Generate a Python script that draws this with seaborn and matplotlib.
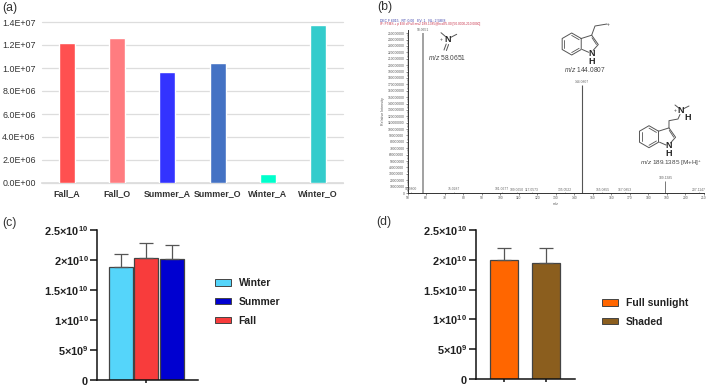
# %%
"""
Figura de cuatro paneles: área por muestra, espectro MS/MS y barras por estación / luz.
"""

import numpy as np
import pandas as pd
import matplotlib.pyplot as plt
import seaborn as sns
from matplotlib.patches import Patch

W, H = 709, 387

# (a)
samples = ["Fall_A", "Fall_O", "Summer_A", "Summer_O", "Winter_A", "Winter_O"]
sample_values = [1.217e7, 1.258e7, 9.65e6, 1.046e7, 8.1e5, 1.377e7]
sample_colors = ["#FF5050", "#FF7C80", "#3333FF", "#4472C4", "#00FFCC", "#33CCCC"]
a_ticks = [0, 2e6, 4e6, 6e6, 8e6, 1e7, 1.2e7, 1.4e7]
a_labels = ["0.0E+00", "2.0E+06", "4.0E+06", "6.0E+06", "8.0E+06", "1.0E+07", "1.2E+07", "1.4E+07"]

# (b)
mz = [51.98, 58.0651, 75.0287, 101.0677, 109.0650, 117.0573, 135.0522, 144.0807,
      155.0855, 167.0853, 189.1385, 207.1147]
intensity = [1.5e6, 2.5e8, 1.2e6, 1.2e6, 1.0e6, 1.0e6, 1.0e6, 1.69e8, 1.0e6, 1.0e6, 1.9e7, 1.0e6]
peak_widths = [0.5, 1.3, 0.5, 0.5, 0.5, 0.5, 0.5, 0.8, 0.5, 0.5, 0.7, 0.5]
peak_colors = ["#888888", "#9A9A9A", "#888888", "#888888", "#888888", "#888888", "#888888",
               "#555555", "#888888", "#888888", "#777777", "#888888"]

# (c)
seasons = ["Winter", "Fall", "Summer"]
season_values = [1.878e10, 2.03e10, 2.02e10]
season_err_top = [2.09e10, 2.28e10, 2.25e10]
season_colors = ["#55D5FA", "#F83C3C", "#0000D0"]
season_legend = ["Winter", "Summer", "Fall"]

# (d)
light = ["Full sunlight", "Shaded"]
light_values = [2.0e10, 1.95e10]
light_err_top = [2.21e10, 2.21e10]
light_colors = ["#FF6600", "#8B5E1E"]

bar_ticks = [0, 5e9, 1e10, 1.5e10, 2e10, 2.5e10]
bar_labels = [r"$\mathbf{0}$", r"$\mathbf{5{\times}10^{9}}$", r"$\mathbf{1{\times}10^{10}}$",
              r"$\mathbf{1.5{\times}10^{10}}$", r"$\mathbf{2{\times}10^{10}}$",
              r"$\mathbf{2.5{\times}10^{10}}$"]

sns.set_theme(style="white")
plt.rcParams["font.family"] = ["Liberation Sans", "DejaVu Sans"]
plt.rcParams["mathtext.fontset"] = "custom"
plt.rcParams["mathtext.rm"] = "Liberation Sans"
plt.rcParams["mathtext.bf"] = "Liberation Sans:bold"
plt.rcParams["mathtext.it"] = "Liberation Sans:italic"

fig = plt.figure(figsize=(W / 100, H / 100), dpi=100)


def px_axes(left, top, right, bottom):
    # ejes a partir de píxeles de la imagen
    return fig.add_axes([left / W, 1 - bottom / H, (right - left) / W, (bottom - top) / H])


def season_bars(ax, cats, values, err_top, colors, width, xlim):
    df = pd.DataFrame({"cat": cats, "val": values})
    sns.barplot(data=df, x="cat", y="val", hue="cat", order=cats, hue_order=cats,
                palette=colors, width=width, saturation=1, edgecolor="#444444",
                linewidth=0.9, legend=False, ax=ax)
    up = np.array(err_top) - np.array(values)
    ax.errorbar(range(len(cats)), values, yerr=[np.zeros(len(up)), up], fmt="none",
                ecolor="#555555", elinewidth=0.9, capsize=4.8, capthick=0.9)
    ax.set_xlim(*xlim)
    ax.set_ylim(0, 2.5e10)
    ax.set_yticks(bar_ticks, bar_labels, fontsize=7.9)
    ax.set_xlabel("")
    ax.set_ylabel("")
    ax.patch.set_alpha(0)
    sns.despine(ax=ax)
    for s in ["left", "bottom"]:
        ax.spines[s].set_linewidth(1.1)
        ax.spines[s].set_color("#111111")
    ax.tick_params(axis="y", left=True, length=5, width=1.1, color="#111111", pad=1, labelcolor="#222222")
    ax.tick_params(axis="x", bottom=True, length=2.5, width=1.1, color="#111111", labelbottom=False)


def small_legend(labels, colors, x, y):
    handles = [Patch(facecolor=c, edgecolor="#444444", linewidth=0.7) for c in colors]
    fig.legend(handles, labels, loc="upper left", bbox_to_anchor=(x / W, 1 - y / H),
               frameon=False, borderpad=0, borderaxespad=0, handlelength=1.53, handleheight=0.6,
               handletextpad=0.75, labelspacing=0.85,
               prop={"family": "Liberation Sans", "weight": "bold", "size": 7.5},
               labelcolor="#222222")


# panel (a)
ax_a = px_axes(42, 22, 343, 183)
df_a = pd.DataFrame({"muestra": samples, "valor": sample_values})
sns.barplot(data=df_a, x="muestra", y="valor", hue="muestra", order=samples, hue_order=samples,
            palette=sample_colors, width=0.32, saturation=1, legend=False, ax=ax_a, zorder=3)
ax_a.set_xlim(-0.5, 5.5)
ax_a.set_ylim(0, 1.4e7)
ax_a.set_yticks(a_ticks, a_labels, fontsize=6.4, color="#333333")
ax_a.set_xticks(range(6), samples, fontsize=6.4, fontweight="bold", color="#333333")
ax_a.set_xlabel("")
ax_a.set_ylabel("")
ax_a.grid(axis="y", color="#DDDDDD", linewidth=0.9, clip_on=False)
ax_a.set_axisbelow(True)
sns.despine(ax=ax_a, left=True)
ax_a.spines["bottom"].set_color("#DDDDDD")
ax_a.tick_params(axis="x", length=0, pad=4.5)
ax_a.tick_params(axis="y", length=0, pad=4.5)

# panel (b)
ax_b = px_axes(407.7, 30, 704, 193)
ax_b.vlines(mz, 0, intensity, colors=peak_colors, linewidth=peak_widths)
ax_b.set_xlim(50, 210)
ax_b.set_ylim(0, 2.55e8)
ax_b.set_xticks(np.arange(50, 211, 10))
ax_b.set_xticks(np.arange(50, 211, 2), minor=True)
ax_b.set_yticks(np.arange(0, 2.51e8, 1e7))
ax_b.set_yticks(np.arange(0, 2.51e8, 2.5e6), minor=True)
ax_b.ticklabel_format(axis="y", style="plain")
sns.despine(ax=ax_b)
for s in ["left", "bottom"]:
    ax_b.spines[s].set_linewidth(0.7)
    ax_b.spines[s].set_color("#333333")
ax_b.tick_params(axis="both", which="major", left=True, bottom=True, length=1.6, width=0.4,
                 labelsize=2.4, pad=0.8, labelcolor="#555555", color="#333333")
ax_b.tick_params(axis="both", which="minor", left=True, bottom=True, length=0.9, width=0.3, color="#333333")
ax_b.set_xlabel("m/z", fontsize=2.6, labelpad=1.5, color="#555555")
ax_b.set_ylabel("Relative Intensity", fontsize=2.6, labelpad=1.5, color="#555555")
for m, v in zip(mz, intensity):
    ax_b.annotate(f"{m:.4f}", (m, v), xytext=(0, 0.6), textcoords="offset points", ha="center",
                  va="bottom", fontsize=2.4, color="#666666", annotation_clip=False)

# capa en píxeles para textos y estructuras
ov = fig.add_axes([0, 0, 1, 1])
ov.set_xlim(0, W)
ov.set_ylim(H, 0)
ov.axis("off")
ov.patch.set_alpha(0)


def bond(pts, lw=0.7):
    xs, ys = zip(*pts)
    ov.plot(xs, ys, color="#555555", linewidth=lw, solid_capstyle="round")


def indole(cx, cy, r):
    ang = np.radians(np.arange(-30, 330, 60))
    hx = cx + r * np.cos(ang)
    hy = cy + r * np.sin(ang)
    bond(list(zip(np.r_[hx, hx[0]], np.r_[hy, hy[0]])))
    for i in (1, 3, 5):
        j = (i + 1) % 6
        bond([(cx + 0.78 * (hx[i] - cx), cy + 0.78 * (hy[i] - cy)),
              (cx + 0.78 * (hx[j] - cx), cy + 0.78 * (hy[j] - cy))], lw=0.6)
    top = (hx[0], hy[0])
    low = (hx[1], hy[1])
    c3 = (top[0] + 0.95 * r, top[1] - 0.30 * r)
    c2 = (top[0] + 1.55 * r, cy + 0.05 * r)
    n1 = (top[0] + 0.95 * r, low[1] + 0.30 * r)
    bond([top, c3, c2, (n1[0] + 1.5, n1[1] - 2.5)])
    bond([(c3[0] + 0.3, c3[1] + 2.5), (c2[0] - 1.8, c2[1])], lw=0.6)
    bond([(low[0] + 1, low[1]), (n1[0] - 3, n1[1] - 0.5)])
    ov.text(n1[0], n1[1] + 0.5, "N", fontsize=6.5, fontweight="bold", ha="center", va="center", color="#222222")
    ov.text(n1[0], n1[1] + 8.5, "H", fontsize=6.5, fontweight="bold", ha="center", va="center", color="#222222")
    return c3


# ion m/z 58
ov.text(447.7, 39.5, "N", fontsize=6.5, fontweight="bold", ha="center", va="center", color="#222222")
bond([(441, 32.7), (445.5, 36.5)])
bond([(456.7, 34.3), (450.5, 37.5)])
bond([(446.2, 44), (444, 50)])
bond([(448.6, 44.5), (446.4, 50.5)])
ov.text(441, 39.5, "+", fontsize=3.5, ha="center", va="center", color="#444444")
ov.text(428, 58, r"$\mathit{m/z}$ 58.0651", fontsize=4.8, va="center", color="#444444")

# ion m/z 144
c3 = indole(571.7, 44, 11)
bond([c3, (595, 26), (607, 24)])
ov.text(608.5, 24, "+", fontsize=3.5, ha="center", va="center", color="#444444")
ov.text(563.5, 69, r"$\mathit{m/z}$ 144.0807", fontsize=4.8, va="center", color="#444444")

# ion m/z 189
c3 = indole(649, 136.7, 11)
bond([c3, (669, 120.7), (678, 119), (680, 114.5)])
bond([(675, 105), (678.8, 108)])
bond([(689, 106), (683, 109)])
ov.text(680.7, 110.7, "N", fontsize=6.5, fontweight="bold", ha="center", va="center", color="#222222")
ov.text(687.7, 117.5, "H", fontsize=6.5, fontweight="bold", ha="center", va="center", color="#222222")
ov.text(675.5, 110.7, "+", fontsize=3.5, ha="center", va="center", color="#444444")
ov.text(640, 163, r"$\mathit{m/z}$ 189.1385 [M+H]$^{+}$", fontsize=4.6, va="center", color="#444444")

# cabecera del espectro
ov.text(380, 20.3, "DEC F 6015,  RT: 0.00   EV: 1   NL: 2.58E8", fontsize=2.45, va="center", color="#3A3FA8")
ov.text(380, 24, "IF: FTMS + p ESI d Full ms2 189.1385@hcd35.00 [50.0000-210.0000]", fontsize=2.35,
        va="center", color="#C8324A")

# etiquetas de panel
for label, x, y in [("(a)", 2, 8), ("(b)", 377, 7), ("(c)", 2, 223), ("(d)", 376, 222)]:
    ov.text(x, y, label, fontsize=8.8, va="center", color="#333333")

# panel (c)
ax_c = px_axes(97, 229.7, 197.7, 379.7)
season_bars(ax_c, seasons, season_values, season_err_top, season_colors, 0.95, (-0.95, 3.03))
ax_c.set_xticks([1])
small_legend(season_legend, [season_colors[0], season_colors[2], season_colors[1]], 215, 278)

# panel (d)
ax_d = px_axes(475.7, 230.3, 575, 378.7)
season_bars(ax_d, light, light_values, light_err_top, light_colors, 0.66, (-0.674, 1.69))
ax_d.set_xticks([0, 1])
small_legend(light, light_colors, 602, 298)

fig.savefig("out.png", dpi=100)
